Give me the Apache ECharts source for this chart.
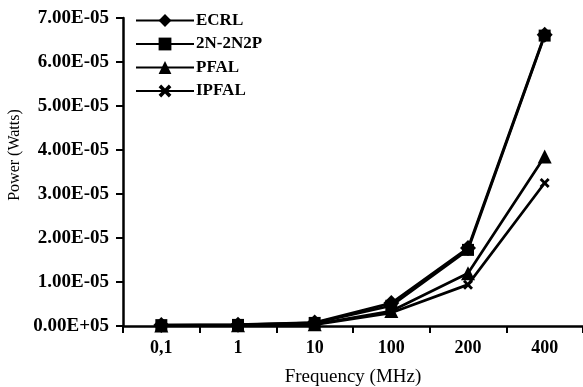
<!DOCTYPE html>
<html>
<head>
<meta charset="utf-8">
<script src="https://cdn.jsdelivr.net/npm/echarts@6/dist/echarts.min.js"></script>
<style>
  html, body { margin: 0; padding: 0; background: #fff; }
  #chart { width: 583px; height: 387px; }
</style>
</head>
<body>
<div id="chart"></div>
<script>
const categories = ['0,1', '1', '10', '100', '200', '400'];
const ecrl = [2e-7, 3e-7, 8e-7, 5.2e-6, 1.77e-5, 6.62e-5];
const n2n2p = [2e-7, 2.5e-7, 7e-7, 4.6e-6, 1.73e-5, 6.6e-5];
const pfal = [1e-7, 1.5e-7, 4e-7, 3.4e-6, 1.2e-5, 3.85e-5];
const ipfal = [1e-7, 1.2e-7, 3e-7, 3e-6, 9.4e-6, 3.25e-5];

const font = 'Liberation Serif';
// filled X shape for the IPFAL marker
const crossPath = 'path://M0,2L2,0L5,3L8,0L10,2L7,5L10,8L8,10L5,7L2,10L0,8L3,5Z';

function mkSeries(name, data, symbol, size, z) {
  return {
    name: name,
    type: 'line',
    data: data,
    symbol: symbol,
    symbolSize: size,
    z: z,
    lineStyle: { color: '#000', width: 2.7 },
    itemStyle: { color: '#000' }
  };
}

const chart = echarts.init(document.getElementById('chart'));
chart.setOption({
  animation: false,
  textStyle: { fontFamily: font, color: '#000' },
  grid: { left: 123, right: 0, top: 18, bottom: 61, outerBoundsMode: 'none' },
  legend: {
    left: 130,
    top: 7,
    orient: 'vertical',
    itemWidth: 58,
    itemHeight: 16,
    itemGap: 6.5,
    textStyle: { fontFamily: font, fontSize: 17, fontWeight: 'bold', color: '#000', lineHeight: 16, padding: [0, 0, 0, -3] },
    data: ['ECRL', '2N-2N2P', 'PFAL', 'IPFAL']
  },
  xAxis: {
    type: 'category',
    data: categories,
    boundaryGap: true,
    name: 'Frequency (MHz)',
    nameLocation: 'middle',
    nameGap: 42,
    nameTextStyle: { fontFamily: font, fontSize: 19, color: '#000' },
    axisLine: { lineStyle: { color: '#000', width: 2.5 } },
    axisTick: { show: true, length: 7, lineStyle: { color: '#000', width: 2 } },
    axisLabel: { fontFamily: font, fontSize: 18, fontWeight: 'bold', color: '#000', margin: 13 },
    splitLine: { show: false }
  },
  yAxis: {
    type: 'value',
    min: 0,
    max: 7e-5,
    interval: 1e-5,
    name: 'Power (Watts)',
    nameLocation: 'middle',
    nameRotate: 90,
    nameGap: 100,
    nameTextStyle: { fontFamily: font, fontSize: 16, color: '#000', padding: [0, 0, 0, 34] },
    axisLine: { show: true, lineStyle: { color: '#000', width: 2.5 } },
    axisTick: { show: true, length: 7, lineStyle: { color: '#000', width: 2 } },
    axisLabel: {
      fontFamily: font, fontSize: 19, fontWeight: 'bold', color: '#000', margin: 14,
      formatter: function (v) {
        if (Math.abs(v) < 1e-12) return '0.00E+05';
        return v.toExponential(2).toUpperCase().replace(/E([+-])(\d)$/, 'E$10$2');
      }
    },
    splitLine: { show: false }
  },
  series: [
    mkSeries('IPFAL', ipfal, crossPath, 10, 2),
    mkSeries('PFAL', pfal, 'triangle', 14, 3),
    mkSeries('2N-2N2P', n2n2p, 'rect', 12, 4),
    mkSeries('ECRL', ecrl, 'diamond', 16, 5)
  ]
});
</script>
</body>
</html>
